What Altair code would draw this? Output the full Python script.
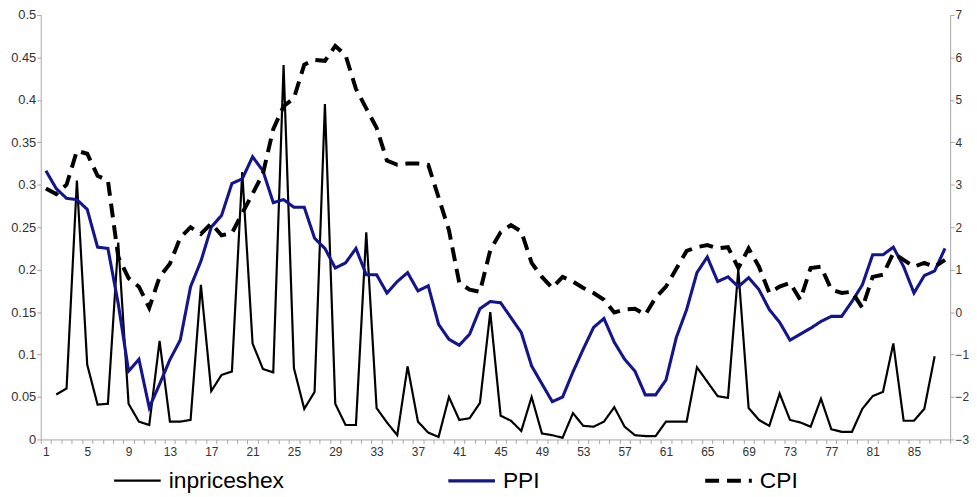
import altair as alt
import pandas as pd

periods = list(range(1, 89))

inpriceshex = [None, 0.053, 0.06, 0.305, 0.088, 0.041, 0.042, 0.232, 0.042, 0.021,
               0.017, 0.116, 0.021, 0.021, 0.023, 0.182, 0.057, 0.076, 0.08, 0.315,
               0.113, 0.083, 0.079, 0.441, 0.084, 0.036, 0.056, 0.395, 0.042, 0.017,
               0.017, 0.244, 0.037, 0.02, 0.005, 0.086, 0.021, 0.008, 0.003, 0.05,
               0.023, 0.025, 0.043, 0.15, 0.028, 0.022, 0.01, 0.05, 0.007, 0.005,
               0.002, 0.031, 0.016, 0.015, 0.021, 0.038, 0.015, 0.005, 0.004, 0.004,
               0.021, 0.021, 0.021, 0.085, 0.068, 0.051, 0.049, 0.2, 0.037, 0.023,
               0.016, 0.054, 0.023, 0.02, 0.015, 0.048, 0.012, 0.009, 0.009, 0.036,
               0.051, 0.056, 0.113, 0.022, 0.022, 0.036, 0.098, None]

ppi = [3.33, 2.91, 2.68, 2.65, 2.42, 1.53, 1.5, 0.2, -1.39, -1.11,
       -2.25, -1.7, -1.12, -0.66, 0.6, 1.2, 2.0, 2.28, 3.03, 3.14,
       3.66, 3.33, 2.58, 2.65, 2.47, 2.47, 1.74, 1.5, 1.04, 1.16,
       1.5, 0.88, 0.88, 0.45, 0.72, 0.93, 0.5, 0.62, -0.29, -0.64,
       -0.78, -0.52, 0.08, 0.25, 0.22, -0.13, -0.48, -1.27, -1.69, -2.11,
       -2.0, -1.41, -0.87, -0.36, -0.15, -0.71, -1.11, -1.39, -1.95, -1.95,
       -1.6, -0.6, 0.06, 0.93, 1.3, 0.72, 0.83, 0.6, 0.81, 0.53,
       0.06, -0.24, -0.66, -0.52, -0.38, -0.22, -0.1, -0.1, 0.25, 0.64,
       1.35, 1.35, 1.53, 1.07, 0.45, 0.86, 0.97, 1.5]

cpi = [2.91, 2.78, 3.0, 3.8, 3.73, 3.21, 3.1, 1.3, 0.8, 0.6,
       0.1, 0.83, 1.14, 1.75, 2.0, 1.84, 2.09, 1.81, 1.86, 2.33,
       2.79, 3.26, 4.31, 4.85, 5.04, 5.83, 5.94, 5.92, 6.27, 6.05,
       5.26, 4.8, 4.34, 3.57, 3.47, 3.5, 3.5, 3.47, 2.7, 1.93,
       0.69, 0.53, 0.48, 1.46, 1.88, 2.05, 1.9, 1.16, 0.83, 0.57,
       0.83, 0.72, 0.57, 0.45, 0.29, -0.01, 0.06, 0.08, -0.06, 0.34,
       0.6, 1.02, 1.44, 1.53, 1.58, 1.5, 1.53, 1.04, 1.5, 1.07,
       0.45, 0.6, 0.69, 0.29, 1.04, 1.07, 0.53, 0.45, 0.48, 0.1,
       0.83, 0.88, 1.39, 1.23, 1.07, 1.16, 1.07, 1.23]

series_names = ["inpriceshex", "PPI", "CPI"]
series_colors = ["#000000", "#14148c", "#000000"]
series_dashes = [[1, 0], [1, 0], [14, 8]]
series_widths = [2.2, 4, 2.6]

x_label_values = list(range(1, 89, 4))
x_tick_values = [k + 0.5 for k in range(0, 89)]
left_values = [0, 0.05, 0.1, 0.15, 0.2, 0.25, 0.3, 0.35, 0.4, 0.45, 0.5]
right_values = [-3, -2, -1, 0, 1, 2, 3, 4, 5, 6, 7]

df_left = pd.DataFrame({"period": periods, "value": inpriceshex, "series": "inpriceshex"}).dropna()
df_right = pd.concat([
    pd.DataFrame({"period": periods, "value": ppi, "series": "PPI"}),
    pd.DataFrame({"period": periods, "value": cpi, "series": "CPI"}),
]).dropna()

x_enc = alt.X(
    "period:Q",
    scale=alt.Scale(domain=[0.5, 88.5], nice=False, zero=False),
    axis=alt.Axis(
        values=x_tick_values + x_label_values,
        labelExpr="datum.value % 1 === 0 ? datum.label : ''",
        tickOpacity={"condition": {"test": "datum.value % 1 === 0", "value": 0}, "value": 1},
        tickSize=4, labelFontSize=12, labelPadding=3, labelOverlap=False,
        labelFlush=False, title=None,
    ),
)

color_enc = alt.Color("series:N", scale=alt.Scale(domain=series_names, range=series_colors),
                      legend=alt.Legend(title=None))
dash_enc = alt.StrokeDash("series:N", scale=alt.Scale(domain=series_names, range=series_dashes),
                          legend=alt.Legend(title=None))
width_enc = alt.StrokeWidth("series:N", scale=alt.Scale(domain=series_names, range=series_widths),
                            legend=alt.Legend(title=None))

left = alt.Chart(df_left).mark_line().encode(
    x=x_enc,
    y=alt.Y("value:Q", scale=alt.Scale(domain=[0, 0.5], nice=False, zero=False),
            axis=alt.Axis(orient="left", values=left_values, format="~g", tickSize=4,
                          labelFontSize=13, labelPadding=1, title=None)),
    color=color_enc, strokeDash=dash_enc, strokeWidth=width_enc,
)

right = alt.Chart(df_right).mark_line().encode(
    x=x_enc,
    y=alt.Y("value:Q", scale=alt.Scale(domain=[-3, 7], nice=False, zero=False),
            axis=alt.Axis(orient="right", values=right_values, tickSize=4,
                          labelFontSize=12, labelPadding=1, title=None)),
    color=color_enc, strokeDash=dash_enc, strokeWidth=width_enc,
    detail="series:N",
)

chart = alt.layer(left, right).resolve_scale(y="independent").properties(
    width=917, height=428,
    padding={"left": 33, "top": 5, "right": 19, "bottom": 56},
    autosize=alt.AutoSizeParams(type="none"),
).configure_view(stroke=None).configure_axis(
    labelFont="Liberation Sans", labelColor="#333333", domainColor="#a6a6a6",
    tickColor="#a6a6a6", grid=False,
).configure_legend(
    orient="none", legendX=72, legendY=444, direction="horizontal", columns=3,
    symbolType="stroke", symbolSize=2209, labelFontSize=23, labelFont="Liberation Sans",
    labelColor="#000000", labelOffset=6, columnPadding=158, padding=0,
)

chart.save("out.html", embed_options={"renderer": "svg", "actions": False})
